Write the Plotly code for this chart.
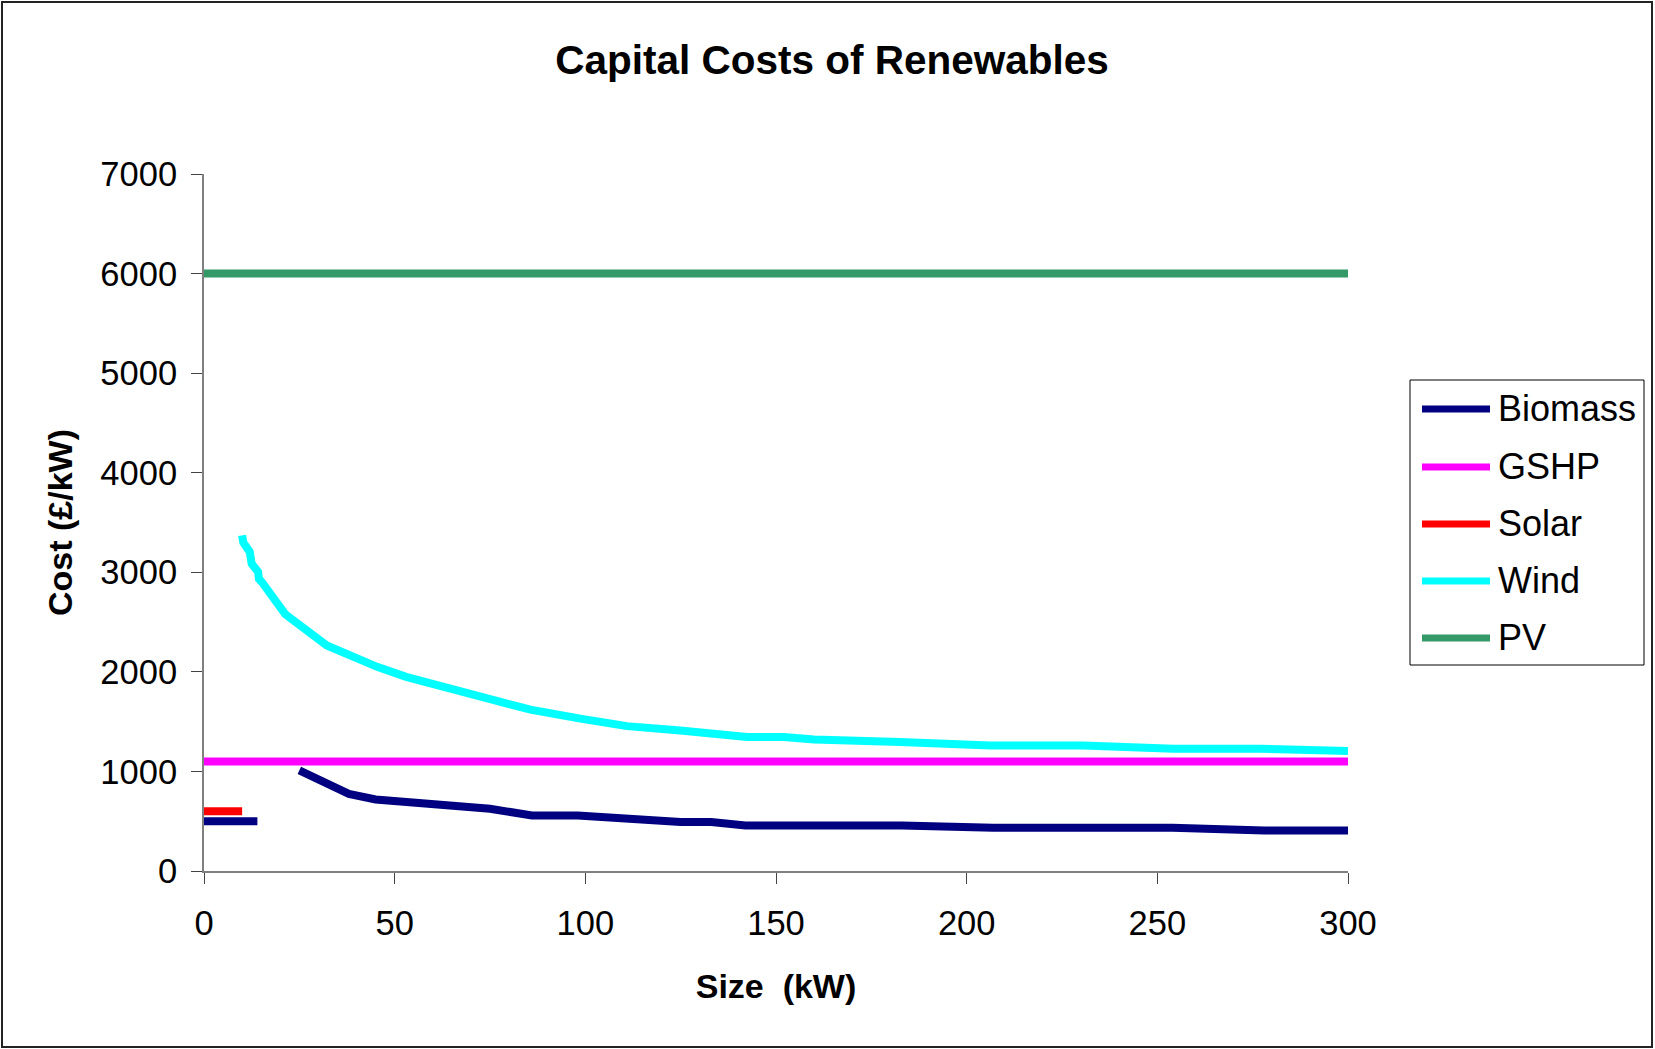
import plotly.graph_objects as go

# ---- data ----
series_names = ["Biomass", "GSHP", "Solar", "Wind", "PV"]
series_colors = ["#000080", "#FF00FF", "#FF0000", "#00FFFF", "#339966"]

biomass_x = [0, 14, None, 25, 28, 33, 38, 45, 61, 75, 86, 98, 125, 133, 142, 183, 207, 254, 278, 300]
biomass_y = [500, 500, None, 1010, 960, 860, 775, 718, 665, 625, 558, 558, 491, 491, 457, 457, 434, 434, 407, 407]

gshp_x = [0, 300]
gshp_y = [1100, 1100]

solar_x = [0, 10]
solar_y = [600, 600]

wind_x = [10, 10.3, 12, 12.5, 14.2, 14.4, 15.2, 21.3, 32.2, 37.8, 45.4, 53, 67.2, 76, 85.6,
          98.7, 110.9, 124.9, 142.4, 152, 160, 182.6, 206.2, 230.6, 254.2, 277, 300]
wind_y = [3370, 3300, 3205, 3085, 3005, 2935, 2900, 2580, 2265, 2165, 2050, 1950, 1800, 1720, 1620,
          1530, 1455, 1410, 1345, 1345, 1320, 1295, 1260, 1260, 1228, 1228, 1205]

pv_x = [0, 300]
pv_y = [6000, 6000]

x_ticks = [0, 50, 100, 150, 200, 250, 300]
y_ticks = [0, 1000, 2000, 3000, 4000, 5000, 6000, 7000]

title_text = "Capital Costs of Renewables"
x_title = "Size\u00a0 (kW)"
y_title = "Cost (£/kW)"

# ---- figure geometry (body margin removed via post_script) ----
W, H = 1655, 1049
PLOT_L, PLOT_R, PLOT_T, PLOT_B = 204, 1348, 174, 871  # in page pixels
L, T = PLOT_L, PLOT_T
R, B = W - PLOT_R, H - PLOT_B
PW, PH = PLOT_R - PLOT_L, PLOT_B - PLOT_T
FONT = "Arial, Liberation Sans, sans-serif"


def px_x(p):
    return (p - PLOT_L) / PW


def px_y(p):
    return (PLOT_B - p) / PH


fig = go.Figure()
data = [(biomass_x, biomass_y), (gshp_x, gshp_y), (solar_x, solar_y), (wind_x, wind_y), (pv_x, pv_y)]
for name, color, (xs, ys) in zip(series_names, series_colors, data):
    fig.add_trace(go.Scatter(x=xs, y=ys, mode="lines", name=name,
                             line=dict(color=color, width=8), connectgaps=False,
                             showlegend=False))

fig.update_layout(
    width=W, height=H,
    margin=dict(l=L, r=R, t=T, b=B),
    paper_bgcolor="white", plot_bgcolor="white",
    font=dict(family=FONT, color="black", size=34),
    title=dict(text=title_text, x=832 / W, xanchor="center",
               y=1 - 60 / H, yanchor="middle", xref="container", yref="container",
               font=dict(family=FONT, size=40.5, weight="bold", color="black")),
    xaxis=dict(range=[0, 300], tickvals=x_ticks, ticks="outside", ticklen=11, tickwidth=1,
               tickcolor="#444", showline=True, linecolor="#808080", linewidth=2,
               showgrid=False, zeroline=False, tickfont=dict(size=34.5),
               ticklabelstandoff=10,
               title=dict(text=x_title, font=dict(size=34, weight="bold"), standoff=33)),
    yaxis=dict(range=[0, 7000], tickvals=y_ticks, ticks="outside", ticklen=11, tickwidth=1,
               tickcolor="#444", showline=True, linecolor="#808080", linewidth=2,
               showgrid=False, zeroline=False, tickfont=dict(size=34.5),
               ticklabelstandoff=7,
               title=dict(text=y_title, font=dict(size=34, weight="bold"), standoff=17)),
)

# outer frame
fig.add_shape(type="rect", xref="paper", yref="paper",
              x0=px_x(2), x1=px_x(1652), y0=px_y(1047), y1=px_y(2),
              line=dict(color="#222", width=2), fillcolor="rgba(0,0,0,0)", layer="below")

# custom legend (long line samples, like the original)
fig.add_shape(type="rect", xref="paper", yref="paper",
              x0=px_x(1410), x1=px_x(1644), y0=px_y(665), y1=px_y(380),
              line=dict(color="black", width=1), fillcolor="white")
item_y = [409, 467, 524, 581, 638]
for name, color, yp in zip(series_names, series_colors, item_y):
    fig.add_shape(type="line", xref="paper", yref="paper",
                  x0=px_x(1422), x1=px_x(1490), y0=px_y(yp), y1=px_y(yp),
                  line=dict(color=color, width=7))
    fig.add_annotation(xref="paper", yref="paper", x=px_x(1496), y=px_y(yp - 1),
                       text=name, showarrow=False, xanchor="left", yanchor="middle",
                       font=dict(family=FONT, size=36, color="black"))

fig.write_html("out.html",
               config={"displayModeBar": False},
               post_script="document.body.style.margin='0';document.body.style.overflow='hidden';")
